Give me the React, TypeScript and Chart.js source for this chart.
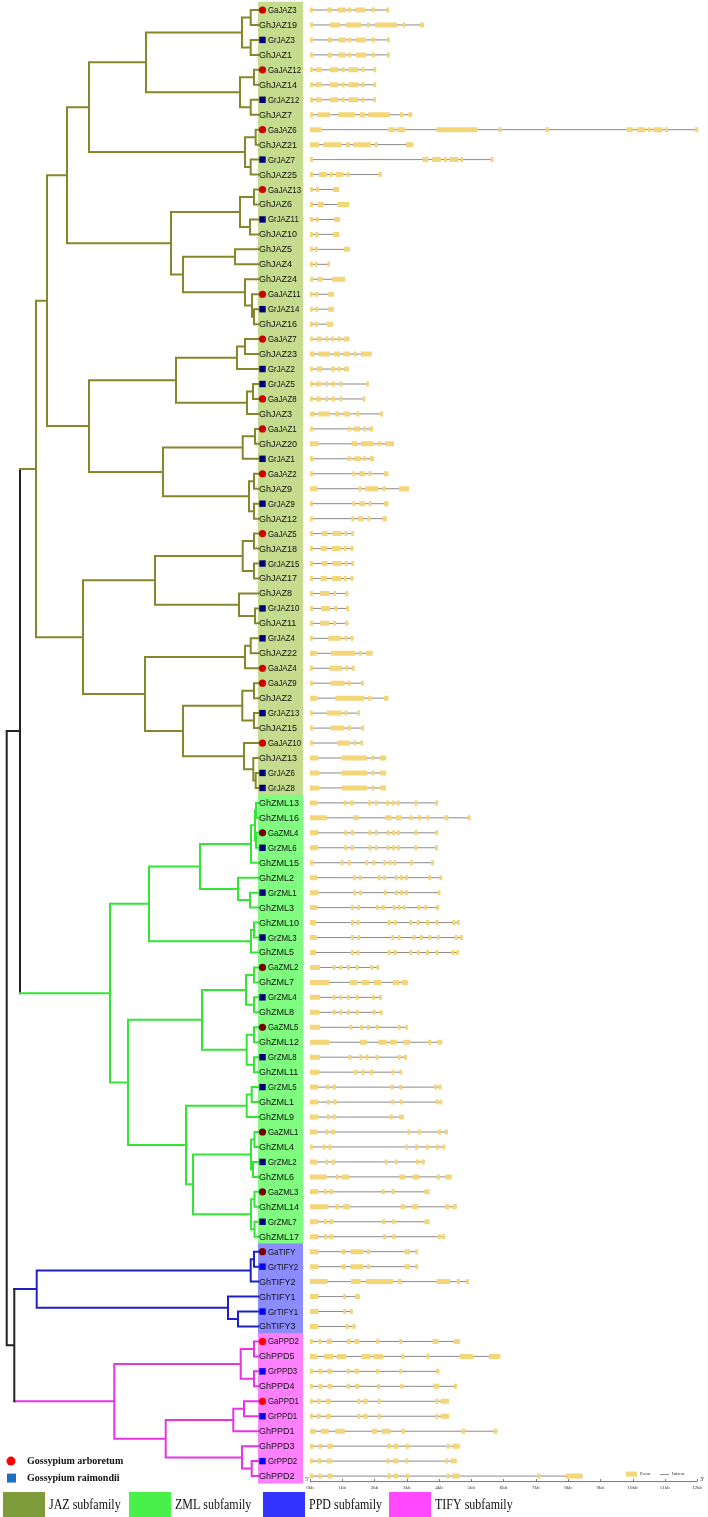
import React, { useEffect, useRef } from "react";
import { Chart, registerables } from "chart.js";
Chart.register(...registerables);

// ---------- rows (leaf order, top to bottom) ----------
const jazGenes = ["GaJAZ3","GhJAZ19","GrJAZ3","GhJAZ1","GaJAZ12","GhJAZ14","GrJAZ12","GhJAZ7","GaJAZ6","GhJAZ21","GrJAZ7","GhJAZ25","GaJAZ13","GhJAZ6","GrJAZ11","GhJAZ10","GhJAZ5","GhJAZ4","GhJAZ24","GaJAZ11","GrJAZ14","GhJAZ16","GaJAZ7","GhJAZ23","GrJAZ2","GrJAZ5","GaJAZ8","GhJAZ3","GaJAZ1","GhJAZ20","GrJAZ1","GaJAZ2","GhJAZ9","GrJAZ9","GhJAZ12","GaJAZ5","GhJAZ18","GrJAZ15","GhJAZ17","GhJAZ8","GrJAZ10","GhJAZ11","GrJAZ4","GhJAZ22","GaJAZ4","GaJAZ9","GhJAZ2","GrJAZ13","GhJAZ15","GaJAZ10","GhJAZ13","GrJAZ6","GrJAZ8"];
const zmlGenes = ["GhZML13","GhZML16","GaZML4","GrZML6","GhZML15","GhZML2","GrZML1","GhZML3","GhZML10","GrZML3","GhZML5","GaZML2","GhZML7","GrZML4","GhZML8","GaZML5","GhZML12","GrZML8","GhZML11","GrZML5","GhZML1","GhZML9","GaZML1","GhZML4","GrZML2","GhZML6","GaZML3","GhZML14","GrZML7","GhZML17"];
const tifyGenes = ["GaTIFY","GrTIFY2","GhTIFY2","GhTIFY1","GrTIFY1","GhTIFY3"];
const ppdGenes = ["GaPPD2","GhPPD5","GrPPD3","GhPPD4","GaPPD1","GrPPD1","GhPPD1","GhPPD3","GrPPD2","GhPPD2"];

// ---------- exon positions (kb, start/end pairs); intron line runs 0 -> last end ----------
const jazExons: number[][] = [
  [0,0.05,0.54,0.67,0.86,1.11,1.21,1.26,1.41,1.71,1.94,1.98,2.38,2.44],
  [0,0.1,0.62,0.93,1.11,1.58,1.76,1.86,2.02,2.69,2.87,2.96,3.41,3.53],
  [0,0.05,0.55,0.69,0.88,1.12,1.21,1.26,1.42,1.74,1.94,1.99,2.4,2.46],
  [0,0.05,0.55,0.69,0.88,1.12,1.21,1.26,1.42,1.74,1.94,1.99,2.4,2.46],
  [0,0.05,0.19,0.36,0.62,0.88,1.0,1.06,1.19,1.5,1.62,1.67,1.98,2.04],
  [0,0.05,0.19,0.36,0.62,0.88,1.0,1.06,1.19,1.5,1.62,1.67,1.98,2.04],
  [0,0.05,0.19,0.36,0.62,0.88,1.0,1.06,1.19,1.5,1.62,1.67,1.97,2.03],
  [0,0.1,0.23,0.62,0.88,1.4,1.55,1.71,1.81,2.48,2.79,2.89,3.05,3.17],
  [0,0.36,2.43,2.62,2.69,2.95,3.93,5.19,5.86,5.94,7.31,7.41,9.82,10.01,10.13,10.39,10.49,10.56,10.65,10.93,11.03,11.08,11.94,12.04],
  [0,0.29,0.41,0.98,1.11,1.24,1.34,1.89,2.02,2.09,2.98,3.2],
  [0,0.05,3.49,3.67,3.79,4.06,4.16,4.24,4.32,4.6,4.68,4.73,5.6,5.68],
  [0,0.1,0.28,0.52,0.64,0.69,0.8,1.03,1.16,1.21,2.12,2.22],
  [0,0.05,0.21,0.26,0.72,0.9],
  [0,0.08,0.24,0.41,0.85,1.21],
  [0,0.05,0.19,0.26,0.75,0.93],
  [0,0.05,0.16,0.26,0.72,0.9],
  [0,0.05,0.16,0.23,1.05,1.24],
  [0,0.05,0.16,0.23,0.57,0.59],
  [0,0.1,0.23,0.39,0.69,1.09],
  [0,0.05,0.18,0.24,0.57,0.74],
  [0,0.05,0.18,0.24,0.57,0.74],
  [0,0.05,0.17,0.23,0.52,0.72],
  [0,0.07,0.21,0.36,0.49,0.55,0.67,0.75,0.88,0.93,1.05,1.22],
  [0,0.15,0.26,0.62,0.74,0.93,1.03,1.24,1.36,1.43,1.58,1.91],
  [0,0.07,0.21,0.38,0.65,0.78,0.88,0.93,1.06,1.21],
  [0,0.05,0.19,0.34,0.47,0.55,0.67,0.78,0.93,0.98,1.76,1.81],
  [0,0.05,0.19,0.34,0.49,0.55,0.67,0.78,0.93,0.98,1.65,1.7],
  [0,0.15,0.26,0.62,0.78,0.91,1.03,1.24,1.43,1.53,2.19,2.24],
  [0,0.1,1.19,1.24,1.36,1.55,1.67,1.72,1.84,1.96],
  [0,0.26,1.29,1.47,1.58,1.98,2.12,2.19,2.33,2.6],
  [0,0.1,1.19,1.24,1.37,1.57,1.67,1.72,1.86,1.98],
  [0,0.08,1.32,1.4,1.53,1.71,1.84,1.89,2.29,2.43],
  [0,0.23,1.5,1.6,1.71,2.12,2.25,2.35,2.76,3.07],
  [0,0.08,1.32,1.4,1.53,1.71,1.84,1.89,2.29,2.43],
  [0,0.08,1.29,1.36,1.5,1.65,1.8,1.85,2.25,2.38],
  [0,0.07,0.36,0.54,0.7,0.98,1.09,1.14,1.29,1.36],
  [0,0.07,0.33,0.52,0.67,0.96,1.07,1.12,1.26,1.34],
  [0,0.07,0.36,0.54,0.7,0.98,1.09,1.14,1.29,1.36],
  [0,0.07,0.33,0.52,0.67,0.96,1.07,1.12,1.26,1.34],
  [0,0.07,0.31,0.6,0.74,0.79,1.09,1.19],
  [0,0.07,0.34,0.62,0.78,0.83,1.12,1.21],
  [0,0.07,0.31,0.6,0.74,0.79,1.09,1.19],
  [0,0.05,0.57,0.96,1.09,1.14,1.27,1.34],
  [0,0.21,0.65,1.4,1.53,1.6,1.74,1.94],
  [0,0.05,0.6,1.0,1.12,1.17,1.31,1.37],
  [0,0.05,0.64,1.07,1.19,1.24,1.6,1.65],
  [0,0.23,0.78,1.69,1.81,1.89,2.29,2.43],
  [0,0.02,0.52,0.98,1.09,1.14,1.48,1.53],
  [0,0.1,0.64,1.07,1.19,1.24,1.6,1.67],
  [0,0.05,0.85,1.24,1.36,1.42,1.58,1.63],
  [0,0.26,0.98,1.76,1.91,1.99,2.17,2.36],
  [0,0.29,0.98,1.78,1.91,1.99,2.17,2.36],
  [0,0.29,0.98,1.78,1.91,1.99,2.17,2.36],
];
const zmlExons: number[][] = [
  [0,0.23,1.06,1.12,1.24,1.36,1.81,1.89,2.02,2.09,2.38,2.43,2.55,2.6,2.71,2.76,3.26,3.31,3.91,3.95],
  [0,0.52,1.34,1.5,2.33,2.53,2.66,2.84,3.1,3.17,3.36,3.43,3.62,3.69,4.17,4.29,4.88,4.98],
  [0,0.26,1.08,1.14,1.26,1.37,1.83,1.89,2.02,2.1,2.4,2.45,2.57,2.62,2.72,2.77,3.26,3.31,3.91,3.95],
  [0,0.26,1.08,1.14,1.26,1.37,1.83,1.89,2.02,2.1,2.4,2.45,2.57,2.62,2.72,2.77,3.26,3.31,3.9,3.94],
  [0,0.1,0.96,1.03,1.19,1.24,1.72,1.79,1.94,2.02,2.29,2.34,2.46,2.51,2.6,2.65,3.12,3.17,3.78,3.82],
  [0,0.23,1.34,1.4,1.52,1.6,2.12,2.17,2.27,2.35,2.66,2.71,2.81,2.87,2.97,3.02,3.69,3.74,4.03,4.08],
  [0,0.26,1.36,1.42,1.53,1.61,2.3,2.36,2.66,2.71,2.81,2.87,2.97,3.02,3.98,4.02],
  [0,0.23,1.29,1.34,1.47,1.55,2.05,2.12,2.22,2.33,2.58,2.64,2.74,2.79,2.89,2.95,3.36,3.41,3.57,3.62,3.93,3.98],
  [0,0.19,1.29,1.34,1.45,1.53,2.43,2.48,2.6,2.69,3.1,3.15,3.33,3.38,3.62,3.67,3.91,3.96,4.42,4.5,4.57,4.63],
  [0,0.21,1.29,1.34,1.47,1.55,2.53,2.6,2.72,2.81,3.2,3.25,3.43,3.48,3.69,3.74,3.95,4.01,4.5,4.57,4.67,4.72],
  [0,0.19,1.29,1.34,1.45,1.53,2.43,2.48,2.6,2.69,3.1,3.15,3.33,3.38,3.62,3.67,3.91,3.96,4.41,4.46,4.55,4.61],
  [0,0.31,0.72,0.78,0.93,0.98,1.16,1.22,1.43,1.5,1.89,1.94,2.07,2.14],
  [0,0.6,1.24,1.47,1.6,1.84,1.98,2.22,2.58,2.65,2.69,2.74,2.84,3.03],
  [0,0.31,0.72,0.78,0.93,0.98,1.16,1.22,1.43,1.5,1.94,2.0,2.15,2.22],
  [0,0.29,0.72,0.78,0.93,0.98,1.16,1.22,1.43,1.5,1.96,2.02,2.17,2.24],
  [0,0.31,1.24,1.3,1.55,1.65,1.78,1.84,2.05,2.12,2.74,2.79,2.95,3.02],
  [0,0.6,1.55,1.76,2.12,2.38,2.48,2.69,2.89,3.1,3.67,3.75,3.95,4.1],
  [0,0.31,1.21,1.27,1.53,1.63,1.74,1.81,2.04,2.12,2.74,2.79,2.92,3.0],
  [0,0.29,1.36,1.47,1.6,1.68,1.86,1.96,2.55,2.6,2.79,2.84],
  [0,0.26,0.52,0.59,0.7,0.81,2.51,2.58,2.77,2.86,3.88,3.93,4.01,4.06],
  [0,0.26,0.54,0.6,0.72,0.83,2.53,2.6,2.79,2.87,3.91,3.96,4.03,4.09],
  [0,0.26,0.54,0.6,0.7,0.81,2.48,2.55,2.76,2.91],
  [0,0.23,0.49,0.55,0.65,0.78,3.03,3.1,3.34,3.44,3.98,4.05,4.19,4.27],
  [0,0.05,0.39,0.47,0.57,0.67,2.95,3.03,3.26,3.36,3.62,3.67,3.91,3.98,4.11,4.19],
  [0,0.23,0.49,0.55,0.67,0.78,2.33,2.4,2.64,2.72,3.31,3.36,3.48,3.55],
  [0,0.52,0.81,0.88,0.98,1.22,2.77,2.95,3.18,3.39,3.93,4.03,4.19,4.39],
  [0,0.26,0.44,0.52,0.6,0.72,2.24,2.3,2.53,2.62,3.57,3.62,3.64,3.69],
  [0,0.57,0.78,0.91,1.03,1.24,2.81,2.95,3.17,3.36,4.19,4.32,4.42,4.55],
  [0,0.26,0.44,0.52,0.6,0.72,2.25,2.32,2.55,2.64,3.57,3.62,3.64,3.69],
  [0,0.26,0.44,0.52,0.6,0.72,2.27,2.35,2.55,2.64,3.98,4.05,4.1,4.19],
];
const tifyExons: number[][] = [
  [0,0.26,0.98,1.11,1.26,1.65,1.79,1.84,2.93,3.1,3.29,3.33],
  [0,0.26,0.98,1.11,1.26,1.65,1.79,1.84,2.93,3.1,3.29,3.33],
  [0,0.54,1.27,1.57,1.74,2.58,2.72,2.84,3.93,4.34,4.55,4.65,4.84,4.92],
  [0,0.26,1.03,1.12,1.4,1.55],
  [0,0.26,1.03,1.12,1.24,1.32],
  [0,0.26,1.12,1.19,1.32,1.41],
];
const ppdExons: number[][] = [
  [0,0.05,0.26,0.36,0.52,0.67,1.14,1.26,1.38,1.53,2.07,2.12,2.79,2.84,3.8,3.98,4.47,4.65],
  [0,0.23,0.44,0.72,0.83,1.12,1.6,1.88,1.96,2.27,2.84,2.92,3.62,3.69,4.65,5.06,5.55,5.9],
  [0,0.08,0.26,0.39,0.54,0.69,1.14,1.24,1.38,1.52,2.07,2.12,2.79,2.84,3.91,4.01],
  [0,0.08,0.26,0.39,0.54,0.69,1.14,1.24,1.4,1.53,2.1,2.15,2.82,2.87,3.83,4.01,4.5,4.52],
  [0,0.08,0.21,0.33,0.5,0.64,1.48,1.55,1.65,1.79,2.12,2.17,3.9,3.96,4.05,4.31],
  [0,0.08,0.21,0.33,0.5,0.64,1.48,1.55,1.65,1.79,2.12,2.17,3.9,3.96,4.05,4.31],
  [0,0.18,0.33,0.58,0.78,1.08,1.92,2.08,2.22,2.5,2.85,2.95,4.7,4.81,5.69,5.81],
  [0,0.1,0.26,0.37,0.54,0.7,2.4,2.51,2.6,2.74,2.99,3.06,4.25,4.32,4.42,4.64],
  [0,0.08,0.23,0.36,0.52,0.67,2.38,2.46,2.58,2.74,2.98,3.02,4.21,4.26,4.36,4.55],
  [0,0.1,0.26,0.37,0.54,0.7,2.4,2.51,2.6,2.74,2.99,3.06,4.25,4.32,4.42,4.64,7.04,7.14,7.93,8.45],
];

const kbTicks = [0,1,2,3,4,5,6,7,8,9,10,11,12];
const kbTickLabels = ["0kb","1kb","2kb","3kb","4kb","5kb","6kb","7kb","8kb","9kb","10kb","11kb","12kb"];
const speciesLegend = ["Gossypium arboretum","Gossypium raimondii"];
const subfamilyLegend = ["JAZ subfamily","ZML subfamily","PPD subfamily","TIFY subfamily"];

// ---------- tree (node depth = distance back from the tips) ----------
type TNode = { d: number; c: (TNode | string)[] };
const N = (d: number, ...c: (TNode | string)[]): TNode => ({ d, c });

const jazTree = N(222,
  N(211,
    N(191,
      N(169,
        N(112,
          N(16, N(7.3,"GaJAZ3","GhJAZ19"), N(7.3,"GrJAZ3","GhJAZ1")),
          N(18, N(4,"GaJAZ12","GhJAZ14"), N(7.3,"GrJAZ12","GhJAZ7"))),
        N(13, N(2.3,"GaJAZ6","GhJAZ21"), N(7.3,"GrJAZ7","GhJAZ25"))),
      N(87,
        N(18, N(4,"GaJAZ13","GhJAZ6"), N(8,"GrJAZ11","GhJAZ10")),
        N(75,
          N(23,"GhJAZ5","GhJAZ4"),
          N(13,"GhJAZ24", N(6,"GaJAZ11", N(4,"GrJAZ14","GhJAZ16")))))),
    N(169,
      N(82,
        N(21, N(13,"GaJAZ7","GhJAZ23"), "GrJAZ2"),
        N(11, N(5,"GrJAZ5","GaJAZ8"), "GhJAZ3")),
      N(95,
        N(15.3, N(3,"GaJAZ1","GhJAZ20"), "GrJAZ1"),
        N(9, N(4,"GaJAZ2","GhJAZ9"), N(4,"GrJAZ9","GhJAZ12"))))),
  N(175,
    N(103,
      N(15.3, N(4,"GaJAZ5","GhJAZ18"), N(4,"GrJAZ15","GhJAZ17")),
      N(19, "GhJAZ8", N(3,"GrJAZ10","GhJAZ11"))),
    N(113,
      N(13, N(7.3,"GrJAZ4","GhJAZ22"), "GaJAZ4"),
      N(75,
        N(15.7, N(4,"GaJAZ9","GhJAZ2"), N(4,"GrJAZ13","GhJAZ15")),
        N(14, "GaJAZ10", N(4.7,"GhJAZ13", N(2.3,"GrJAZ6","GrJAZ8")))))));

const zmlTree = N(148,
  N(109,
    N(58,
      N(7, N(3, N(2,"GhZML13","GhZML16"), N(2,"GaZML4","GrZML6")), "GhZML15"),
      N(20, "GhZML2", N(8,"GrZML1","GhZML3"))),
    N(7, N(4,"GhZML10","GrZML3"), "GhZML5")),
  N(130,
    N(56,
      N(12, N(4,"GaZML2","GhZML7"), N(4,"GrZML4","GhZML8")),
      N(11.3, N(4,"GaZML5","GhZML12"), N(4,"GrZML8","GhZML11"))),
    N(72,
      N(11.3, N(6.3,"GrZML5","GhZML1"), "GhZML9"),
      N(65,
        N(7, N(3.5,"GaZML1","GhZML4"), N(5,"GrZML2","GhZML6")),
        N(7, N(3.5,"GaZML3","GhZML14"), N(3.5,"GrZML7","GhZML17"))))));

const tifyTree = N(221.3,
  N(7.3, N(4,"GaTIFY","GrTIFY2"), "GhTIFY2"),
  N(30, "GhTIFY1", N(20,"GrTIFY1","GhTIFY3")));

const ppdTree = N(143.7,
  N(17.3, N(4,"GaPPD2","GhPPD5"), N(4,"GrPPD3","GhPPD4")),
  N(92.3,
    N(24.7, N(14,"GaPPD1","GrPPD1"), "GhPPD1"),
    N(16, "GhPPD3", N(6.3,"GrPPD2","GhPPD2"))));

const jazZmlDepth = 238;
const tifyPpdDepth = 243.7;
const rootDepth = 251.3;

// ---------- styling ----------
const families = [
  { genes: jazGenes, exons: jazExons, tree: jazTree, band: "#c5db8e", branch: "#86862a", circle: "#cc0000", square: "#000078" },
  { genes: zmlGenes, exons: zmlExons, tree: zmlTree, band: "#80fd80", branch: "#33e633", circle: "#780000", square: "#000078" },
  { genes: tifyGenes, exons: tifyExons, tree: tifyTree, band: "#8c8cff", branch: "#2020c8", circle: "#780000", square: "#0000f0" },
  { genes: ppdGenes, exons: ppdExons, tree: ppdTree, band: "#ff80ff", branch: "#e633e6", circle: "#ff0000", square: "#0000f0" },
];
const legendColors = ["#7e9c3b", "#4af04a", "#3434ff", "#ff48ff"];
const ROOT_COLOR = "#222222";
const EXON = "#f4d578";
const INTRON = "#8a8a8a";
const MIN_EXON_KB = 0.09;

const geneNames: string[] = families.flatMap((f) => f.genes);
const geneExons: number[][] = families.flatMap((f) => f.exons);

function buildTreeSegments() {
  const colorOf = new Map<TNode, string>();
  families.forEach((f) => colorOf.set(f.tree, f.branch));
  const root = N(rootDepth, N(jazZmlDepth, jazTree, zmlTree), N(tifyPpdDepth, tifyTree, ppdTree));
  const segs = new Map<string, { x: number; y: number | null }[]>();
  const add = (col: string, x1: number, y1: number, x2: number, y2: number) => {
    if (!segs.has(col)) segs.set(col, []);
    const a = segs.get(col)!;
    a.push({ x: x1, y: y1 }, { x: x2, y: y2 }, { x: x2, y: null });
  };
  const walk = (n: TNode | string, color: string): number => {
    if (typeof n === "string") return geneNames.indexOf(n);
    const ys: number[] = [];
    n.c.forEach((ch) => {
      const chColor = typeof ch === "string" ? color : colorOf.get(ch) ?? color;
      const y = walk(ch, chColor);
      ys.push(y);
      const chDepth = typeof ch === "string" ? 0 : ch.d;
      add(chColor, n.d, y, chDepth, y);
    });
    add(color, n.d, ys[0], n.d, ys[ys.length - 1]);
    return (ys[0] + ys[ys.length - 1]) / 2;
  };
  walk(root, ROOT_COLOR);
  return segs;
}

const overlayPlugin = {
  id: "phyloOverlay",
  beforeDatasetsDraw(chart: any) {
    const ctx = chart.ctx;
    const xt = chart.scales.xt, y = chart.scales.y;
    const left = xt.getPixelForValue(0);
    let start = 0;
    ctx.save();
    families.forEach((f) => {
      const top = y.getPixelForValue(start - 0.55);
      const bot = y.getPixelForValue(start + f.genes.length - 1 + 0.5);
      ctx.fillStyle = f.band;
      ctx.fillRect(left, top, 45, bot - top);
      start += f.genes.length;
    });
    ctx.restore();
  },
  afterDatasetsDraw(chart: any) {
    const ctx = chart.ctx;
    const xt = chart.scales.xt, xg = chart.scales.xg, y = chart.scales.y;
    const tip = xt.getPixelForValue(0);
    ctx.save();
    ctx.textBaseline = "middle";
    ctx.textAlign = "left";
    let row = 0;
    families.forEach((f) => {
      f.genes.forEach((g) => {
        const py = y.getPixelForValue(row);
        const sp = g.slice(0, 2);
        ctx.font = "9px 'Liberation Sans', Arial, sans-serif";
        if (sp === "Ga") {
          ctx.fillStyle = f.circle;
          ctx.beginPath();
          ctx.arc(tip + 4.5, py, 3.6, 0, Math.PI * 2);
          ctx.fill();
        } else if (sp === "Gr") {
          ctx.fillStyle = f.square;
          ctx.fillRect(tip + 1.3, py - 3.2, 6.4, 6.4);
        }
        ctx.fillStyle = "#111";
        if (sp === "Gh") {
          ctx.fillText(g, tip + 1, py + 0.5);
        } else {
          ctx.save();
          ctx.translate(tip + 10, py + 0.5);
          ctx.scale(0.87, 1);
          ctx.fillText(g, 0, 0);
          ctx.restore();
        }
        row++;
      });
    });

    // gene-structure axis
    const ay = y.getPixelForValue(geneNames.length - 1) + 5;
    const x0 = xg.getPixelForValue(kbTicks[0]);
    const x1 = xg.getPixelForValue(kbTicks[kbTicks.length - 1]);
    ctx.strokeStyle = "#777";
    ctx.lineWidth = 1;
    ctx.beginPath();
    ctx.moveTo(x0, ay + 0.5);
    ctx.lineTo(x1, ay + 0.5);
    kbTicks.forEach((t) => {
      const px = Math.round(xg.getPixelForValue(t)) + 0.5;
      ctx.moveTo(px, ay + 0.5);
      ctx.lineTo(px, ay - 2);
    });
    ctx.stroke();
    ctx.fillStyle = "#333";
    ctx.font = "5px 'Liberation Serif', serif";
    ctx.textAlign = "center";
    kbTicks.forEach((t, i) => ctx.fillText(kbTickLabels[i], xg.getPixelForValue(t), ay + 7));
    ctx.font = "6px 'Liberation Serif', serif";
    ctx.fillText("5'", x0 - 3, ay - 2);
    ctx.fillText("3'", x1 + 5, ay - 2);
    // exon / intron key
    const ky = ay - 7;
    ctx.fillStyle = EXON;
    ctx.fillRect(626, ky - 2.5, 11, 5);
    ctx.strokeStyle = INTRON;
    ctx.beginPath();
    ctx.moveTo(660, ky + 0.5);
    ctx.lineTo(669, ky + 0.5);
    ctx.stroke();
    ctx.fillStyle = "#333";
    ctx.textAlign = "left";
    ctx.font = "5px 'Liberation Serif', serif";
    ctx.fillText("Exon", 640, ky);
    ctx.fillText("Intron", 672, ky);

    // species legend
    const sy1 = y.getPixelForValue(geneNames.length - 2);
    const sy2 = y.getPixelForValue(geneNames.length - 1) + 2;
    ctx.fillStyle = "#ff0000";
    ctx.beginPath();
    ctx.arc(11, sy1, 4.5, 0, Math.PI * 2);
    ctx.fill();
    ctx.fillStyle = "#1f6fc0";
    ctx.fillRect(7, sy2 - 4.5, 9, 9);
    ctx.fillStyle = "#111";
    ctx.font = "bold 10px 'Liberation Serif', serif";
    ctx.fillText(speciesLegend[0], 27, sy1);
    ctx.fillText(speciesLegend[1], 27, sy2);

    // subfamily legend
    const lx = [3, 129, 263, 389];
    ctx.font = "15px 'Liberation Serif', serif";
    subfamilyLegend.forEach((t, i) => {
      ctx.fillStyle = legendColors[i];
      ctx.fillRect(lx[i], 1492, 42, 25);
      ctx.fillStyle = "#111";
      ctx.save();
      ctx.translate(lx[i] + 46, 1505);
      ctx.scale(0.8, 1);
      ctx.fillText(t, 0, 0);
      ctx.restore();
    });
    ctx.restore();
  },
};

export default function App() {
  const ref = useRef<HTMLCanvasElement | null>(null);
  useEffect(() => {
    if (!ref.current) return;
    const segs = buildTreeSegments();
    const treeSets = Array.from(segs.entries()).map(([col, data]) => ({
      data,
      showLine: true,
      borderColor: col,
      borderWidth: 2,
      pointRadius: 0,
      borderCapStyle: "square",
      spanGaps: false,
      xAxisID: "xt",
      yAxisID: "y",
      order: 3,
    }));
    const introns: any[] = [];
    const exons: any[] = [];
    geneExons.forEach((ex, i) => {
      const end = ex[ex.length - 1];
      introns.push({ x: 0, y: i }, { x: end, y: i }, { x: end, y: null });
      for (let k = 0; k < ex.length; k += 2) {
        let s = ex[k], e = ex[k + 1];
        if (e - s < MIN_EXON_KB) {
          const c = (s + e) / 2;
          s = Math.max(0, c - MIN_EXON_KB / 2);
          e = s + MIN_EXON_KB;
        }
        exons.push({ x: s, y: i }, { x: e, y: i }, { x: e, y: null });
      }
    });
    const chart = new Chart(ref.current, {
      type: "scatter",
      data: {
        datasets: [
          { data: exons, showLine: true, borderColor: EXON, borderWidth: 5, borderCapStyle: "butt", pointRadius: 0, spanGaps: false, xAxisID: "xg", yAxisID: "y", order: 1 } as any,
          { data: introns, showLine: true, borderColor: INTRON, borderWidth: 1, pointRadius: 0, spanGaps: false, xAxisID: "xg", yAxisID: "y", order: 2 } as any,
          ...(treeSets as any[]),
        ],
      },
      options: {
        responsive: false,
        maintainAspectRatio: false,
        devicePixelRatio: 1,
        animation: false,
        events: [],
        layout: { padding: 0 },
        plugins: { legend: { display: false }, tooltip: { enabled: false } },
        scales: {
          xt: { type: "linear", axis: "x", position: "bottom", display: false, min: -450, max: 258, reverse: true },
          xg: { type: "linear", axis: "x", position: "top", display: false, min: -9.612, max: 12.341 },
          y: { type: "linear", display: false, min: -0.6684, max: 100.735, reverse: true },
        },
      } as any,
      plugins: [overlayPlugin],
    });
    return () => chart.destroy();
  }, []);
  return (
    <div style={{ position: "absolute", left: 0, top: 0, width: 708, height: 1517, background: "#fff" }}>
      <canvas ref={ref} width={708} height={1517} style={{ display: "block", width: 708, height: 1517 }} />
    </div>
  );
}
